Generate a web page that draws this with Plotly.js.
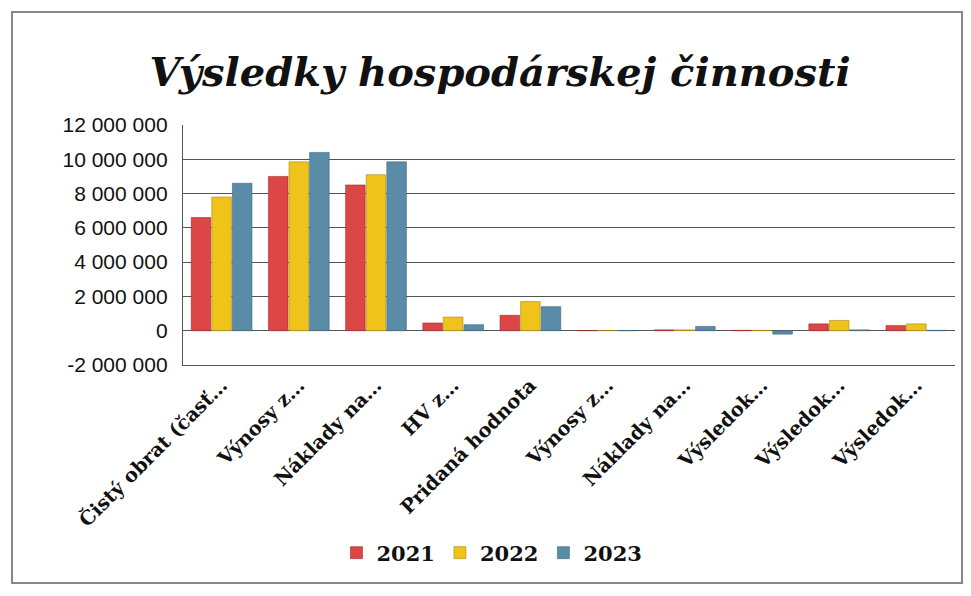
<!DOCTYPE html>
<html>
<head>
<meta charset="utf-8">
<script src="https://cdn.plot.ly/plotly-3.0.1.min.js"></script>
<style>
html,body{margin:0;padding:0;background:#fff;}
#chart{width:971px;height:596px;}
</style>
</head>
<body>
<div id="chart"></div>
<script>
const categories = ["Čistý obrat (časť…", "Výnosy z…", "Náklady na…", "HV z…", "Pridaná hodnota", "Výnosy z…", "Náklady na…", "Výsledok…", "Výsledok…", "Výsledok…"];
const years = ["2021", "2022", "2023"];
const v2021 = [6600000, 9000000, 8500000, 450000, 900000, 10000, 50000, 20000, 400000, 300000];
const v2022 = [7800000, 9850000, 9100000, 800000, 1700000, 10000, 50000, 20000, 600000, 400000];
const v2023 = [8600000, 10400000, 9850000, 350000, 1400000, 10000, 250000, -200000, 50000, 20000];
const yTicks = [-2000000, 0, 2000000, 4000000, 6000000, 8000000, 10000000, 12000000];
const yTickText = ["-2 000 000", "0", "2 000 000", "4 000 000", "6 000 000", "8 000 000", "10 000 000", "12 000 000"];

const colors = ["#dc4646", "#f0c31a", "#5a8ca8"];
const lines = ["#a52a2a", "#a88a10", "#3b6680"];
const idx = categories.map((c, i) => i);
const series = [v2021, v2022, v2023];
const data = series.map((vals, k) => ({
  type: "bar",
  name: "<b>" + years[k] + "</b>",
  x: idx,
  y: vals,
  marker: {color: colors[k], line: {color: lines[k], width: 0.6}}
}));

const L = 183, R = 955, T = 125, B = 365;
const pw = R - L, ph = B - T;
const px = x => (x - L) / pw;
const py = y => (B - y) / ph;

const layout = {
  width: 971, height: 596,
  margin: {l: L, r: 971 - R, t: T, b: 596 - B},
  paper_bgcolor: "#fff", plot_bgcolor: "#fff",
  separators: ", ",
  barmode: "group", bargap: 0.2, bargroupgap: 0.05,
  showlegend: true,
  title: {
    text: "<i><b>Výsledky hospodárskej činnosti</b></i>",
    font: {family: "DejaVu Serif", size: 40, color: "#111"},
    x: 0.515, xanchor: "center", y: 1 - 72/596, yanchor: "middle"
  },
  xaxis: {
    tickvals: idx, ticktext: categories.map(c => "<b>" + c + "</b>"),
    tickangle: -45,
    tickfont: {family: "DejaVu Serif", size: 19.5, color: "#111"},
    showline: true, linecolor: "#555", linewidth: 1.2,
    showgrid: false, zeroline: false, ticks: "",
    range: [-0.5, 9.5]
  },
  yaxis: {
    range: [-2000000, 12000000],
    tickvals: yTicks,
    ticktext: yTickText,
    tickfont: {family: "Liberation Sans", size: 21, color: "#111"},
    showgrid: true, gridcolor: "#555", gridwidth: 1,
    zeroline: true, zerolinecolor: "#555", zerolinewidth: 1,
    showline: true, linecolor: "#555", linewidth: 1.2,
    ticks: "", ticklabelstandoff: 10
  },
  legend: {
    orientation: "h",
    x: px(492), xanchor: "center",
    y: py(553), yanchor: "middle",
    font: {family: "DejaVu Serif", size: 21, color: "#111"},
    itemwidth: 30, traceorder: "normal"
  },
  shapes: [{
    type: "rect", xref: "paper", yref: "paper",
    x0: px(12), x1: px(962), y0: py(583), y1: py(12),
    line: {color: "#888", width: 2}, layer: "below"
  }]
};

Plotly.newPlot("chart", data, layout, {displayModeBar: false, staticPlot: true});
</script>
</body>
</html>
